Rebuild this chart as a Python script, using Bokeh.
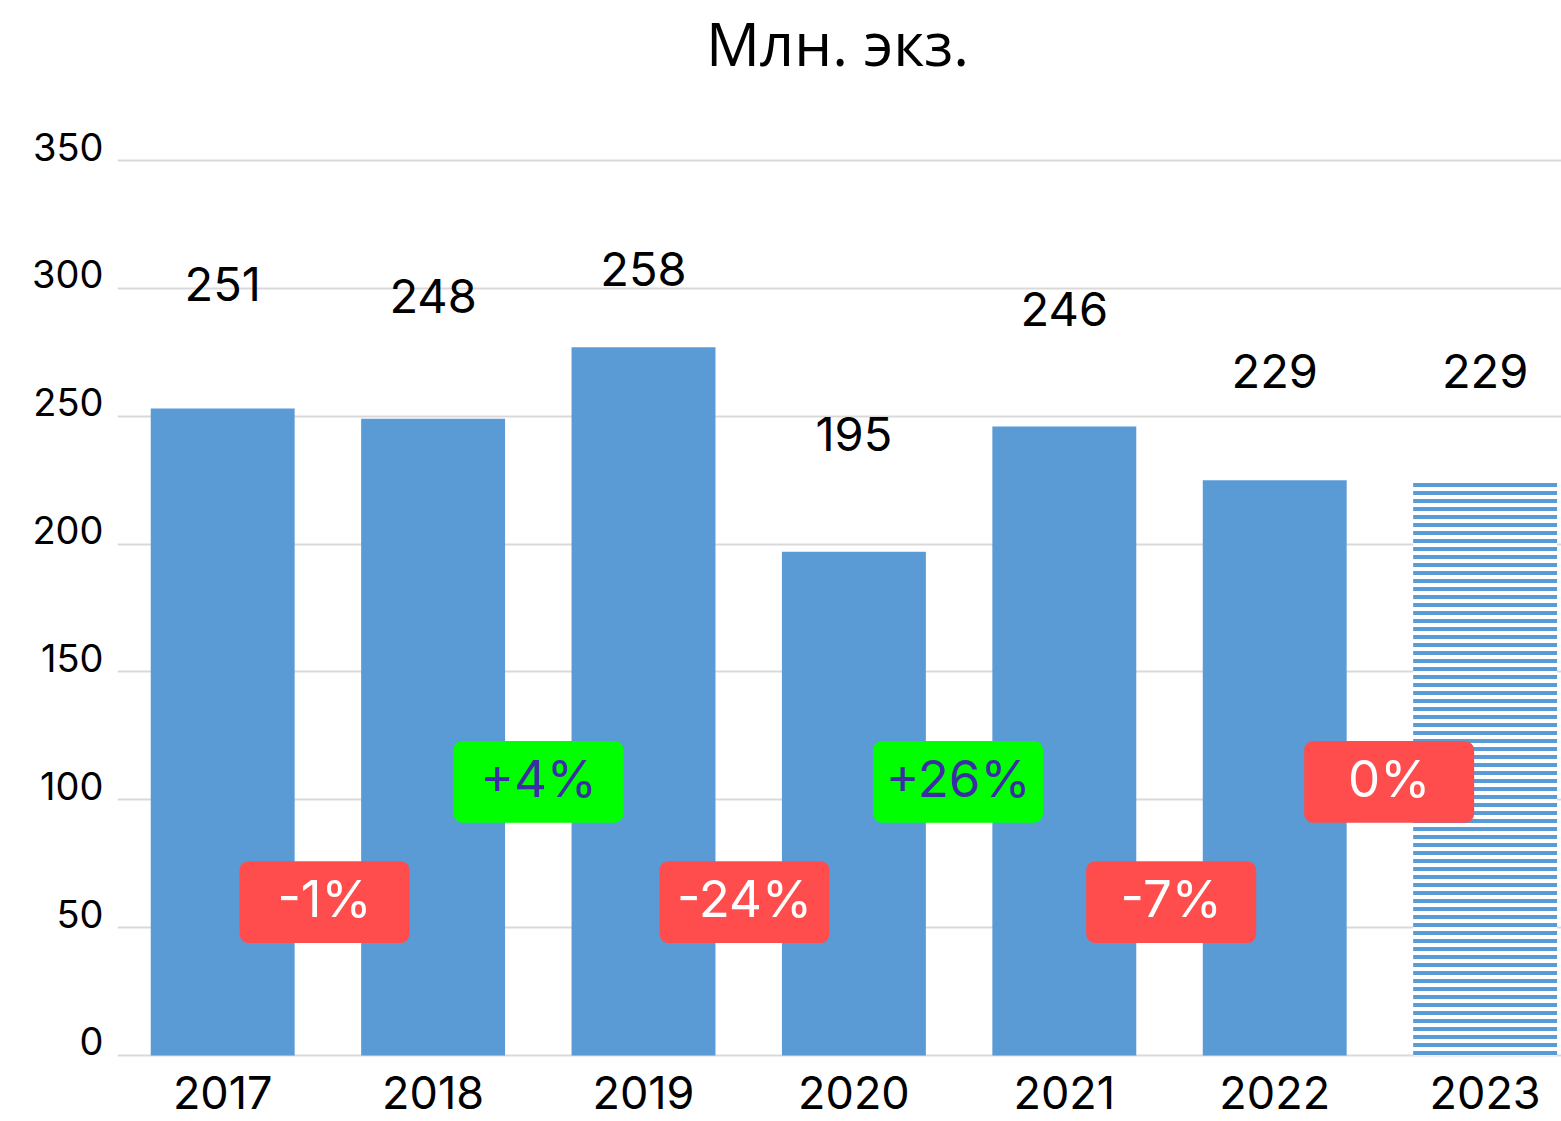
from bokeh.plotting import figure
from bokeh.models import ColumnDataSource, Range1d, LinearAxis, FixedTicker
from bokeh.core.properties import value
from bokeh.embed import file_html
from bokeh.resources import INLINE

# ---- data ----
title_text = "Млн. экз."
years = ["2017", "2018", "2019", "2020", "2021", "2022", "2023"]
bar_values = [253, 249, 277, 197, 246, 225, 225]
value_labels = ["251", "248", "258", "195", "246", "229", "229"]
label_pos = [301.7, 297.1, 307.5, 242.9, 292.1, 267.9, 267.9]
forecast = [False, False, False, False, False, False, True]
changes = ["-1%", "+4%", "-24%", "+26%", "-7%", "0%"]
change_x = [0.484, 1.501, 2.480, 3.495, 4.508, 5.544]
change_level = [60, 107, 60, 107, 60, 107]
y_ticks = [0, 50, 100, 150, 200, 250, 300, 350]

BLUE = "#5B9BD5"
RED = "#FF4D4D"
GREEN = "#00FF00"
GREEN_TXT = "#3A2DA6"
FONT = "Inter"

xs = list(range(len(years)))

X0, X1 = -0.5, 6.363
Y0, Y1 = -25.8, 412.6
p = figure(width=1561, height=1121, output_backend="svg", toolbar_location=None,
           x_range=Range1d(X0, X1), y_range=Range1d(Y0, Y1),
           min_border_left=117, min_border_right=0, min_border_top=0,
           min_border_bottom=0)
p.title = None
p.outline_line_color = None
p.background_fill_color = "white"
p.border_fill_color = "white"

# grid
p.xgrid.visible = False
p.ygrid.ticker = FixedTicker(ticks=y_ticks)
p.ygrid.grid_line_color = "#D9D9D9"
p.ygrid.grid_line_width = 2

# axes: main ones hidden; y labels on a slightly shifted axis
p.yaxis.visible = False
p.xaxis.visible = False
shift = 5.5
p.extra_y_ranges = {"lab": Range1d(Y0 - shift, Y1 - shift)}
lab_axis = LinearAxis(y_range_name="lab", ticker=FixedTicker(ticks=y_ticks))
lab_axis.axis_line_color = None
lab_axis.major_tick_line_color = None
lab_axis.minor_tick_line_color = None
lab_axis.major_label_standoff = 8
lab_axis.major_label_text_font = FONT
lab_axis.major_label_text_font_size = "38px"
lab_axis.major_label_text_color = "#000000"
p.add_layout(lab_axis, "left")

# title (drawn as text at the top of the plot area)
p.text(x=[(X0 + X1) / 2 - 0.01], y=[395.8], text=[title_text], text_align="center",
       text_baseline="middle", text_font=value("Open Sans"),
       text_font_size="60px", text_color="#000000")

# year labels under the bars
year_src = ColumnDataSource(dict(x=xs, y=[-14.6] * len(xs), text=years))
p.text(x="x", y="y", text="text", source=year_src, text_align="center",
       text_baseline="middle", text_font=value(FONT), text_font_size="45px",
       text_color="#000000")

# bars
solid = ColumnDataSource(dict(
    x=[x for x, f in zip(xs, forecast) if not f],
    top=[v for v, f in zip(bar_values, forecast) if not f]))
hatched = ColumnDataSource(dict(
    x=[x for x, f in zip(xs, forecast) if f],
    top=[v for v, f in zip(bar_values, forecast) if f]))
p.vbar(x="x", top="top", bottom=0, width=0.684, source=solid,
       fill_color=BLUE, line_color=None)
p.vbar(x="x", top="top", bottom=0, width=0.684, source=hatched,
       fill_color="white", line_color=None,
       hatch_pattern="horizontal_line", hatch_color=BLUE,
       hatch_scale=8, hatch_weight=4)

# value labels
labels = ColumnDataSource(dict(x=xs, y=label_pos, text=value_labels))
p.text(x="x", y="y", text="text", source=labels, text_align="center",
       text_baseline="middle", text_font=value(FONT),
       text_font_size="47px", text_color="#000000")

# change badges
half_w, half_h = 0.404, 16
bcol = [GREEN if c.startswith("+") else RED for c in changes]
tcol = [GREEN_TXT if c.startswith("+") else "#FFFFFF" for c in changes]
badges = ColumnDataSource(dict(
    left=[x - half_w for x in change_x], right=[x + half_w for x in change_x],
    bottom=[y - half_h for y in change_level], top=[y + half_h for y in change_level],
    x=change_x, y=[y + 1.5 for y in change_level], text=changes,
    fill=bcol, tc=tcol))
p.quad(left="left", right="right", top="top", bottom="bottom", source=badges,
       fill_color="fill", line_color=None, border_radius=9)
p.text(x="x", y="y", text="text", source=badges, text_align="center",
       text_baseline="middle", text_font=value(FONT), text_font_size="51px",
       text_color="tc")

open("out.html", "w").write(file_html(p, INLINE))
